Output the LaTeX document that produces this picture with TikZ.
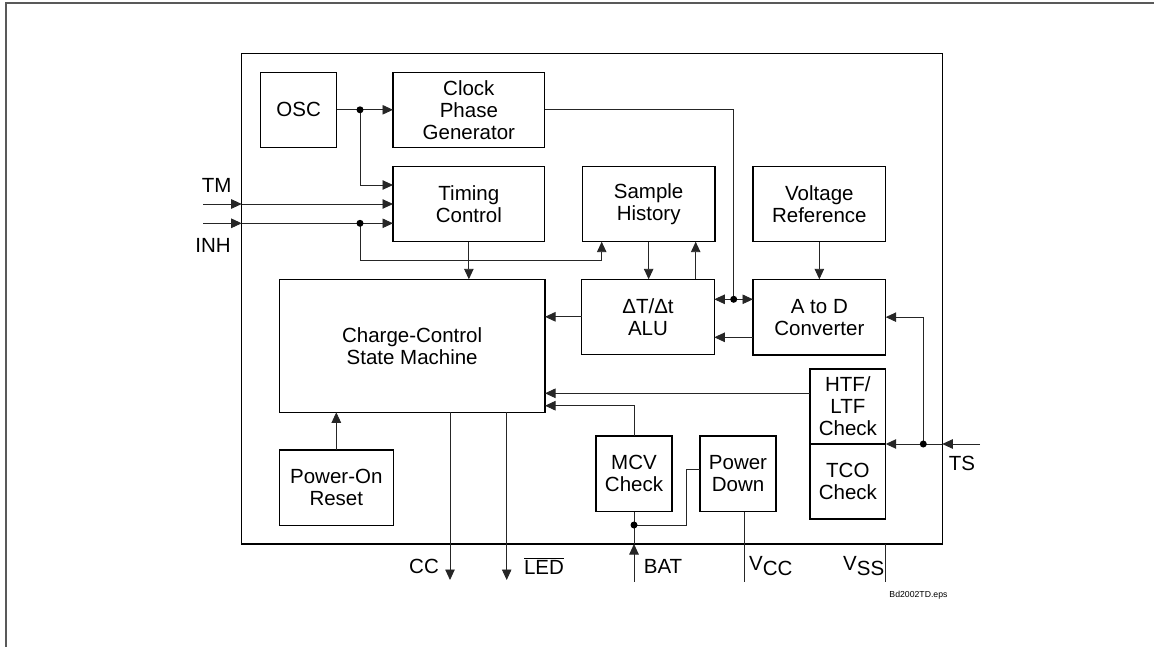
\documentclass[tikz,border=0pt]{standalone}
\usepackage{fontspec}
\setmainfont{Liberation Sans}
\usetikzlibrary{arrows.meta,calc}
\begin{document}
\begin{tikzpicture}[x=1pt,y=-1pt,
  box/.style={draw=black,line width=1.4pt,align=center,inner sep=0pt,outer sep=0pt,anchor=north west,
    font=\fontsize{20.5}{22}\selectfont},
  lbl/.style={inner sep=0pt,font=\fontsize{20.5}{22}\selectfont},
  conn/.style={line width=0.9pt,draw=black!85},
  arr/.style={conn,-{Triangle[length=10.5pt,width=9.5pt]}},
  dot/.style={circle,fill=black,inner sep=0pt,minimum size=7pt}]
\useasboundingbox (0,0) rectangle (1154,647);
% page frame
\draw[line width=1.6pt,draw=black!65] (6,647) -- (6,3) -- (1154,3);
% chip outline
\node[box,minimum width=700.6pt,minimum height=490.7pt] (chip) at (241.7,53.3) {};
% blocks
\node[box,minimum width=76pt,minimum height=75pt] (osc) at (260.7,72.3) {OSC};
\node[box,minimum width=151.7pt,minimum height=75pt] (cpg) at (393,72.3) {Clock\\Phase\\Generator};
\node[box,minimum width=151.7pt,minimum height=75pt] (tc) at (393,166.7) {Timing\\Control};
\node[box,minimum width=132.7pt,minimum height=75pt] (sh) at (582.3,166.7) {Sample\\History};
\node[box,minimum width=132.7pt,minimum height=75pt] (vr) at (753,166.7) {Voltage\\Reference};
\node[box,minimum width=265.7pt,minimum height=133pt] (ccsm) at (279.3,279.3) {Charge-Control\\State Machine};
\node[box,minimum width=132.6pt,minimum height=75pt] (alu) at (581.7,279.3) {ΔT/Δt\\ALU};
\node[box,minimum width=132.7pt,minimum height=75.7pt] (adc) at (753,279.3) {A to D\\Converter};
\node[box,minimum width=75.7pt,minimum height=75pt] (htf) at (810,369) {HTF/\\LTF\\Check};
\node[box,minimum width=75.7pt,minimum height=75pt] (tco) at (810,444) {TCO\\Check};
\node[box,minimum width=114pt,minimum height=75.7pt] (por) at (279.3,450) {Power-On\\Reset};
\node[box,minimum width=76pt,minimum height=75.7pt] (mcv) at (596,436) {MCV\\Check};
\node[box,minimum width=76pt,minimum height=75.7pt] (pd) at (700,436) {Power\\Down};
% coordinates
\coordinate (d1) at (360,109.8);
\coordinate (tcin) at (393,185);
\coordinate (tm) at (203,204);
\coordinate (inh) at (203,223.3);
\coordinate (d2) at (360,223.3);
\coordinate (k1) at (360,260.7);
\coordinate (shin) at (601.7,241.7);
\coordinate (d3) at (733.7,299.3);
\coordinate (shup) at (695.7,241.7);
\coordinate (a2) at (753,337.3);
\coordinate (h1) at (810,393.3);
\coordinate (m1) at (545,405.7);
\coordinate (ts) at (980,444);
\coordinate (d4) at (923.3,444);
\coordinate (cc) at (450,580);
\coordinate (led) at (506.7,580);
\coordinate (bat) at (634,581.7);
\coordinate (d5) at (634,525);
\coordinate (k2) at (686.7,525);
\coordinate (p1) at (700,469.3);
\coordinate (vcc) at (744,581.7);
\coordinate (vss) at (885.3,581.7);
% connectors
\draw[arr] (osc.east) -- (cpg.west);
\draw[arr] (d1) |- (tcin);
\draw[arr] (tm) -- (tm -| chip.west);
\draw[arr] (tm -| chip.west) -- (tm -| tc.west);
\draw[arr] (inh) -- (inh -| chip.west);
\draw[arr] (inh -| chip.west) -- (inh -| tc.west);
\draw[conn] (d2) -- (k1);
\draw[arr] (k1) -| (shin);
\draw[arr] (tc.south) -- (tc.south |- ccsm.north);
\draw[conn] (cpg.east) -| (d3);
\draw[arr] (d3) -- (d3 -| alu.east);
\draw[arr] (d3) -- (d3 -| adc.west);
\draw[arr] (sh.south) -- (sh.south |- alu.north);
\draw[arr] (shup |- alu.north) -- (shup);
\draw[arr] (vr.south) -- (vr.south |- adc.north);
\draw[arr] (alu.west) -- (alu.west -| ccsm.east);
\draw[arr] (a2) -- (a2 -| alu.east);
\draw[arr] (h1) -- (h1 -| ccsm.east);
\draw[arr] (mcv.north) |- (m1);
\draw[arr] (ts) -- (ts -| chip.east);
\draw[arr] (ts -| chip.east) -- (ts -| htf.east);
\draw[arr] (d4) |- (adc.east);
\draw[arr] (por.north) -- (por.north |- ccsm.south);
\draw[arr] (cc |- ccsm.south) -- (cc);
\draw[arr] (led |- ccsm.south) -- (led);
\draw[arr] (bat) -- (bat |- chip.south);
\draw[conn] (bat |- chip.south) -- (mcv.south);
\draw[conn] (d5) -- (k2) |- (p1);
\draw[conn] (vcc |- pd.south) -- (vcc);
\draw[conn] (vss |- chip.south) -- (vss);
% dots
\node[dot] at (d1) {};
\node[dot] at (d2) {};
\node[dot] at (d3) {};
\node[dot] at (d4) {};
\node[dot] at (d5) {};
% pin labels
\node[lbl] (ltm) at (216.7,185) {TM};
\node[lbl] (linh) at (213,245) {INH};
\node[lbl] (lcc) at (424,566) {CC};
\node[lbl] (lled) at (544,566) {$\overline{\mbox{LED}}$};
\node[lbl] (lbat) at (663,566) {BAT};
\node[lbl,anchor=west] (lvcc) at (749,566) {V\raisebox{-5pt}{CC}};
\node[lbl,anchor=west] (lvss) at (843,566) {V\raisebox{-5pt}{SS}};
\node[lbl] (lts) at (962,463) {TS};
\node[inner sep=0pt,font=\fontsize{8.7}{10}\selectfont] (eps) at (918.5,595.7) {Bd2002TD.eps};
\end{tikzpicture}
\end{document}
